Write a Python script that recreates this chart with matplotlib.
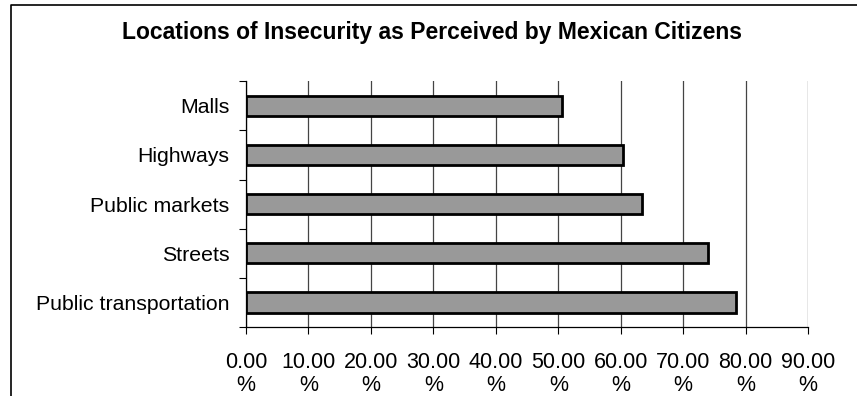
import matplotlib
matplotlib.use("Agg")
import matplotlib.pyplot as plt
from matplotlib.lines import Line2D

# locations, bottom to top
places = ["Public transportation", "Streets", "Public markets", "Highways", "Malls"]
pct = [78.5, 74.0, 63.4, 60.4, 50.6]
xticks = [0, 10, 20, 30, 40, 50, 60, 70, 80, 90]
xlabels = ["%.2f\n%%" % v for v in xticks]

plt.rcParams['font.family'] = ['Liberation Sans', 'DejaVu Sans']

fig = plt.figure(figsize=(8.57, 3.96), dpi=100)
ax = fig.add_axes([0.287, 0.174, 0.656, 0.621])

ypos = range(len(places))
ax.barh(ypos, pct, height=0.41, color='#999999', edgecolor='black', linewidth=2, zorder=3)

ax.set_xlim(0, 90)
ax.set_ylim(-0.5, len(places) - 0.5)
ax.set_xticks(xticks)
ax.set_xticklabels(xlabels, fontsize=15.5, linespacing=1.15)
ax.set_yticks(list(ypos))
ax.set_yticklabels(places, fontsize=15.3)
ax.tick_params(axis='y', length=0, pad=12)
ax.tick_params(axis='x', length=5, width=0.8, color='black', direction='out', pad=13)
# y ticks sit between categories
ax.set_yticks([i - 0.5 for i in range(len(places) + 1)], minor=True)
ax.tick_params(axis='y', which='minor', length=5, width=0.8)

ax.grid(axis='x', color='#444444', linewidth=0.9, zorder=0)
for s in ['top', 'right']:
    ax.spines[s].set_visible(False)
ax.spines['left'].set_linewidth(0.9)
ax.spines['bottom'].set_linewidth(0.9)

fig.text(0.504, 0.917, "Locations of Insecurity as Perceived by Mexican Citizens",
         ha='center', va='center', fontsize=16.5, fontweight='bold')

# chart frame (left and top edges only)
fig.add_artist(Line2D([0.013, 0.013, 1.0], [0, 0.987, 0.987],
                      transform=fig.transFigure, color='black', linewidth=1.2))

fig.savefig("out.png", dpi=100)
